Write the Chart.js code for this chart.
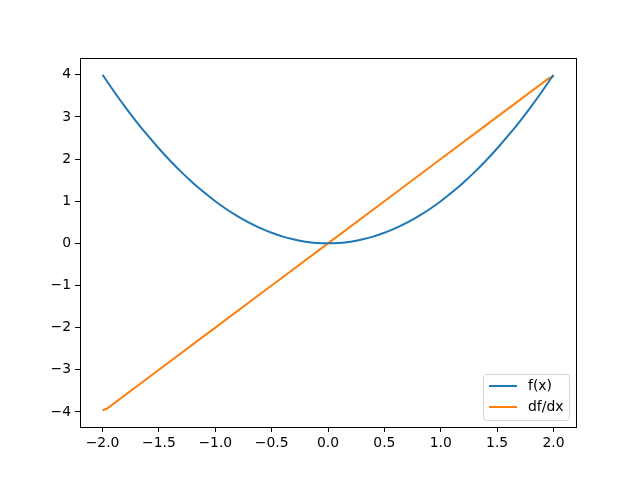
<!DOCTYPE html>
<html>
<head>
<meta charset="utf-8">
<script src="https://cdn.jsdelivr.net/npm/chart.js@4/dist/chart.umd.min.js"></script>
<style>
  html, body { margin: 0; padding: 0; background: #fff; }
  #wrap { width: 640px; height: 480px; }
</style>
</head>
<body>
<div id="wrap"><canvas id="chart"></canvas></div>
<script>
// f(x) curve
const fX = [-2.0, -1.9, -1.8, -1.7, -1.6, -1.5, -1.4, -1.3, -1.2, -1.1, -1.0,
  -0.9, -0.8, -0.7, -0.6, -0.5, -0.4, -0.3, -0.2, -0.1, 0.0,
  0.1, 0.2, 0.3, 0.4, 0.5, 0.6, 0.7, 0.8, 0.9, 1.0,
  1.1, 1.2, 1.3, 1.4, 1.5, 1.6, 1.7, 1.8, 1.9, 2.0];
const fY = [4.0, 3.61, 3.24, 2.89, 2.56, 2.25, 1.96, 1.69, 1.44, 1.21, 1.0,
  0.81, 0.64, 0.49, 0.36, 0.25, 0.16, 0.09, 0.04, 0.01, 0.0,
  0.01, 0.04, 0.09, 0.16, 0.25, 0.36, 0.49, 0.64, 0.81, 1.0,
  1.21, 1.44, 1.69, 1.96, 2.25, 2.56, 2.89, 3.24, 3.61, 4.0];

// df/dx line (small kinks at both ends)
const dX = [-2.0, -1.96, -1.5, -1.0, -0.5, 0.0, 0.5, 1.0, 1.5, 1.96, 2.0];
const dY = [-3.96, -3.92, -3.0, -2.0, -1.0, 0.0, 1.0, 2.0, 3.0, 3.92, 3.96];

const xTicks = [-2.0, -1.5, -1.0, -0.5, 0.0, 0.5, 1.0, 1.5, 2.0];
const yTicks = [-4, -3, -2, -1, 0, 1, 2, 3, 4];

const FONT = "'DejaVu Sans', sans-serif";
const toPts = (xs, ys) => xs.map((x, i) => ({ x: x, y: ys[i] }));
const fmt = (v, d) => v.toFixed(d).replace('-', '\u2212');

// frame around the plot area, like matplotlib's spines
const frame = {
  id: 'frame',
  afterDatasetsDraw(chart) {
    const a = chart.chartArea, ctx = chart.ctx;
    ctx.save();
    ctx.strokeStyle = '#000';
    ctx.lineWidth = 1;
    ctx.strokeRect(Math.round(a.left) + 0.5, Math.round(a.top) + 0.5,
      Math.round(a.right - a.left), Math.round(a.bottom - a.top));
    ctx.restore();
  }
};

// legend box in lower right corner
const boxLegend = {
  id: 'boxLegend',
  afterDraw(chart) {
    const a = chart.chartArea, ctx = chart.ctx;
    const w = 86, h = 46;
    const x = a.right - 7 - w, y = a.bottom - 7 - h;
    ctx.save();
    ctx.globalAlpha = 0.8;
    ctx.fillStyle = '#fff';
    ctx.strokeStyle = '#ccc';
    ctx.lineWidth = 1;
    ctx.beginPath();
    ctx.roundRect(x + 0.5, y + 0.5, w, h, 3);
    ctx.fill();
    ctx.stroke();
    ctx.globalAlpha = 1;
    ctx.font = '13.9px ' + FONT;
    ctx.textBaseline = 'middle';
    chart.data.datasets.forEach((ds, i) => {
      const ly = y + 12 + i * 21;
      ctx.strokeStyle = ds.borderColor;
      ctx.lineWidth = 2;
      ctx.beginPath();
      ctx.moveTo(x + 6, ly);
      ctx.lineTo(x + 34, ly);
      ctx.stroke();
      ctx.fillStyle = '#000';
      ctx.fillText(ds.label, x + 45, ly);
    });
    ctx.restore();
  }
};

new Chart(document.getElementById('chart'), {
  type: 'scatter',
  data: {
    datasets: [
      {
        label: 'f(x)',
        data: toPts(fX, fY),
        showLine: true,
        borderColor: '#1f77b4',
        borderWidth: 2,
        pointRadius: 0,
        cubicInterpolationMode: 'monotone'
      },
      {
        label: 'df/dx',
        data: toPts(dX, dY),
        showLine: true,
        borderColor: '#ff7f0e',
        borderWidth: 2,
        pointRadius: 0,
        tension: 0
      }
    ]
  },
  options: {
    responsive: true,
    maintainAspectRatio: false,
    animation: false,
    layout: { padding: { left: 0, top: 58, right: 64, bottom: 0 } },
    plugins: {
      legend: { display: false },
      tooltip: { enabled: false }
    },
    scales: {
      x: {
        type: 'linear',
        min: -2.2,
        max: 2.2,
        afterFit(scale) { scale.height = 53; },
        afterBuildTicks(scale) { scale.ticks = xTicks.map(v => ({ value: v })); },
        border: { display: false },
        grid: { drawOnChartArea: false, drawTicks: true, tickLength: 5, color: '#000' },
        ticks: {
          color: '#000',
          padding: 3,
          maxRotation: 0,
          font: { family: FONT, size: 13.9 },
          callback: v => fmt(v, 1)
        }
      },
      y: {
        type: 'linear',
        min: -4.358,
        max: 4.398,
        afterFit(scale) { scale.width = 80; },
        afterBuildTicks(scale) { scale.ticks = yTicks.map(v => ({ value: v })); },
        border: { display: false },
        grid: { drawOnChartArea: false, drawTicks: true, tickLength: 5, color: '#000' },
        ticks: {
          color: '#000',
          padding: 4,
          font: { family: FONT, size: 13.9 },
          callback: v => fmt(v, 0)
        }
      }
    }
  },
  plugins: [frame, boxLegend]
});
</script>
</body>
</html>
